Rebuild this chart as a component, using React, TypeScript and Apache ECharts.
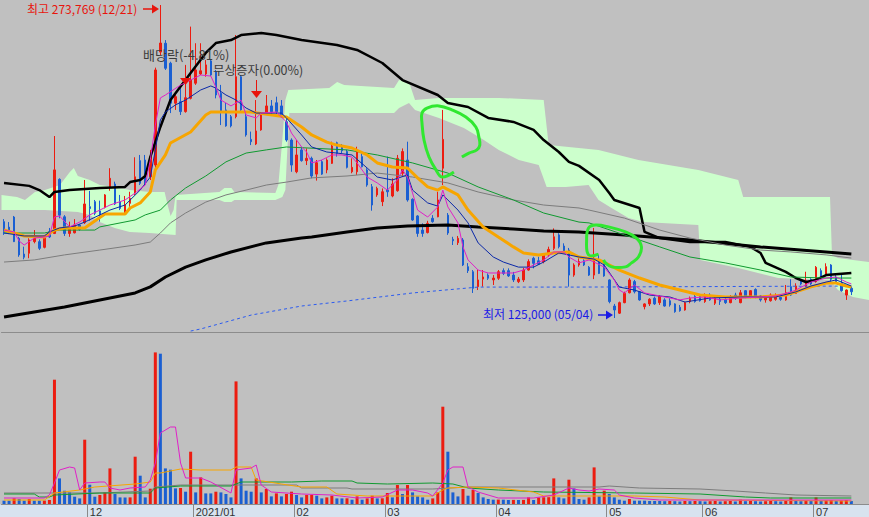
import React, { useEffect, useRef } from "react";
import * as echarts from "echarts";

// ---- categories: trading days per month (3 trailing future days for the cloud) ----
const monthDays: [string, number[]][] = [
  ["2020/11", [6, 9, 10, 11, 12, 13, 16, 17, 18, 19, 20, 23, 24, 25, 26, 27, 30]],
  ["2020/12", [1, 2, 3, 4, 7, 8, 9, 10, 11, 14, 15, 16, 17, 18, 21, 22, 23, 24, 28, 29, 30]],
  ["2021/01", [4, 5, 6, 7, 8, 11, 12, 13, 14, 15, 18, 19, 20, 21, 22, 25, 26, 27, 28, 29]],
  ["2021/02", [1, 2, 3, 4, 5, 8, 9, 10, 15, 16, 17, 18, 19, 22, 23, 24, 25, 26]],
  ["2021/03", [2, 3, 4, 5, 8, 9, 10, 11, 12, 15, 16, 17, 18, 19, 22, 23, 24, 25, 26, 29, 30, 31]],
  ["2021/04", [1, 2, 5, 6, 7, 8, 9, 12, 13, 14, 15, 16, 19, 20, 21, 22, 23, 26, 27, 28, 29, 30]],
  ["2021/05", [3, 4, 6, 7, 10, 11, 12, 13, 14, 17, 18, 20, 21, 24, 25, 26, 27, 28, 31]],
  ["2021/06", [1, 2, 3, 4, 7, 8, 9, 10, 11, 14, 15, 16, 17, 18, 21, 22, 23, 24, 25, 28, 29, 30]],
  ["2021/07", [1, 2, 5, 6, 7, 8, 9, 12, 13, 14, 15]],
];

// ---- candles: [open, close, low, high] ----
const ohlc: number[][] = [
  [170800,166000,164500,172000],[168200,165900,164900,170600],[173000,161300,161100,173500],[162900,155000,154100,163600],
  [155400,153900,152900,158900],[155800,162100,153400,162900],[161300,164000,160500,166800],[161300,158100,157300,162400],
  [158600,164000,158100,164500],[166000,163500,163000,167800],[165200,195400,164900,211500],[190900,173900,172400,191400],
  [173100,165200,164000,173900],[165200,167600,163600,170800],[165500,169200,165200,172000],[169200,167100,166500,169700],
  [170300,179200,169700,190600],[177900,177000,171200,185400],[180300,174800,173900,181100],[175900,174000,170800,180800],
  [177600,183500,177100,183900],[187100,191400,185500,196200],[188700,179200,178700,189800],[180300,177100,176300,183500],
  [175000,178700,174800,183000],[179500,181900,177900,185000],[184300,192100,183500,201400],[199800,189000,188200,202500],
  [200100,189000,187800,202500],[192100,201700,190600,204900],[197700,242900,196300,244000],[251400,255700,250000,273769],
  [255600,243700,242900,257100],[246100,227100,222400,246800],[227100,230200,223900,231000],[227800,223100,221500,234300],
  [223100,229700,222600,245300],[229400,238100,228900,263500],[236600,242900,235800,255600],[241000,242500,240500,255600],
  [241000,245300,239700,247600],[247200,240500,240000,247600],[242100,231000,229400,242900],[231800,223100,216700,235800],
  [223900,216300,215900,227200],[220700,216300,215600,221500],[220700,239700,219900,259500],[239700,223900,223100,240500],
  [220700,212000,211200,223100],[209900,208800,207200,213600],[207700,213900,207200,228600],[214400,221500,214000,222300],
  [222300,225800,221500,231000],[225800,223100,221500,228600],[227300,223100,222000,230200],[225800,220700,220100,228600],
  [218300,209600,208800,219900],[209600,197700,194500,210400],[194500,202500,193800,209600],[204900,199800,199300,206400],
  [199800,200900,197700,205600],[200900,192500,191400,201700],[193400,198800,190300,200100],[199300,193400,193000,200100],
  [195400,200100,193800,200900],[198500,206800,198200,208800],[208300,203300,201700,208800],[206800,204500,203300,207700],
  [204100,196600,196100,204900],[194500,196600,193800,200900],[194500,204100,193000,206400],[201700,196900,196600,203300],
  [195400,188200,187400,196200],[187400,178700,176000,188700],[183500,186600,182600,187400],[180300,185000,178200,186600],
  [185800,185000,182600,201700],[183000,188700,182400,191400],[185500,200900,185000,202500],[193800,204100,192100,205600],
  [200100,181100,180300,208800],[181400,171600,171200,181900],[173500,165200,163600,173900],[166800,165200,163600,170000],
  [165600,170000,165200,171200],[172400,170800,170300,173900],[173100,181100,172900,185000],[196200,209900,188200,223900],
  [173900,165400,164500,174900],[162400,161700,159700,163600],[160800,162900,159700,164000],[162100,150200,149700,163000],
  [149400,147500,146400,151100],[147000,139100,136900,147800],[139900,143100,138300,147800],[143500,144500,139900,147800],
  [145400,143900,143100,146200],[143100,144000,140700,145400],[143900,147000,143100,147800],[147500,146200,145400,148600],
  [147500,145000,144500,148600],[145400,143100,142100,146900],[142300,143500,141600,144500],[143100,147800,142100,148800],
  [147800,151800,147500,152900],[153400,151000,148600,154100],[152200,150600,150200,154100],[151800,155400,151000,155800],
  [155000,157600,154100,158900],[158100,163600,157300,167600],[164500,158900,158100,165300],[159200,156500,155800,160500],
  [157300,145400,139900,158300],[145400,150200,144600,151000],[150200,151800,149400,153400],[152200,150200,149700,152900],
  [149100,145400,145000,149700],[145400,153400,143500,167800],[151800,146200,145900,155000],[151000,145000,144600,151800],
  [143100,132800,132000,143400],[130700,128800,125000,131700],[127300,132300,126900,132800],[132300,136700,132000,137500],
  [137000,143100,136700,143900],[142300,137500,136700,143100],[137500,133600,133200,137800],[130400,131700,129100,132000],
  [131700,133900,130700,134400],[134400,131700,131200,135200],[132300,135200,131200,135900],[133600,130700,130400,134400],
  [133200,131200,130400,134400],[131700,128000,127500,132000],[130100,128500,128000,131200],[128800,132300,128500,132800],
  [132800,134400,132000,135200],[135200,132800,132300,136700],[135200,133200,132800,136400],[132800,135900,132200,136700],
  [135900,133600,133200,136700],[132000,134400,131200,135500],[133900,132900,131200,134800],[133900,132300,131700,135200],
  [132300,134800,132000,135900],[135900,134400,133600,137000],[132300,137000,132000,138300],[138000,134800,134400,138300],
  [134800,138000,134400,138300],[138600,134800,134400,139100],[135500,133600,132800,135900],[133600,134800,132300,135500],
  [133200,135900,132800,136700],[133900,135500,133200,136700],[134800,133900,133200,136300],[133600,137000,133200,140700],
  [139900,135900,135500,143400],[136700,140200,136400,141500],[142700,141200,140700,143400],[139900,142700,139600,147000],
  [143400,141200,140700,143900],[142300,149100,141800,149700],[147500,144600,143900,148600],[145900,149400,145400,151000],
  [150200,143400,142300,150600],[144300,141800,141200,145400],[141500,138000,137500,146200],[135900,138300,133600,138600],
  [139100,137500,135900,139900],
];

const volume: number[] = [
  33000,33000,56000,50000,33000,50000,33000,33000,34000,40000,
  1243000,256000,133000,116000,73000,56000,643000,193000,73000,90000,
  116000,356000,100000,66000,65000,66000,473000,283000,66000,153000,
  1516000,1503000,356000,343000,156000,160000,123000,523000,116000,266000,
  106000,106000,123000,116000,100000,66000,1226000,256000,133000,123000,
  256000,116000,150000,76000,106000,76000,100000,123000,90000,66000,
  90000,91000,83000,56000,66000,83000,56000,56000,57000,43000,
  76000,43000,56000,83000,56000,57000,110000,66000,190000,100000,
  190000,116000,76000,66000,43000,56000,116000,973000,523000,116000,
  76000,150000,83000,140000,110000,66000,50000,43000,44000,43000,
  40000,41000,40000,41000,66000,40000,66000,67000,68000,256000,
  66000,56000,243000,156000,50000,43000,66000,366000,76000,133000,
  100000,66000,43000,33000,50000,33000,33000,33000,30000,30000,
  30000,28000,30000,28000,25000,30000,28000,30000,28000,25000,
  28000,30000,25000,28000,30000,25000,43000,28000,30000,28000,
  25000,28000,30000,28000,25000,30000,66000,30000,28000,35000,
  30000,66000,30000,35000,40000,30000,35000,40000,30000,
];

// ---- price moving averages: [category index, price] ----
const ma5: number[][] = [
  [0,166800],[2,165900],[3,161600],[4,159700],[6,163000],[8,163500],[9,164000],[10,173000],[11,173500],[13,168300],
  [15,170600],[17,174000],[19,176300],[21,178700],[24,181100],[26,184400],[28,188200],[29,200100],[30,216700],[31,229600],
  [32,231000],[35,235700],[37,238100],[39,240500],[41,240000],[42,234800],[43,228600],[45,225800],[47,228600],[48,221500],
  [50,220100],[51,222400],[54,222900],[56,218200],[57,212900],[59,206300],[60,203900],[61,198700],[63,200100],[65,202500],
  [67,202500],[69,201500],[70,198700],[72,192000],[74,189200],[76,185800],[78,190600],[79,195400],[80,192000],[81,184400],
  [82,176300],[84,173000],[86,177800],[87,185800],[88,177800],[90,170200],[91,158800],[92,152600],[94,147800],[96,146400],
  [98,146400],[101,146400],[103,147800],[105,150200],[107,152600],[109,156400],[111,156400],[112,154000],[114,151200],
  [116,152600],[117,151600],[119,149200],[121,143100],[122,138300],[123,136900],[125,140700],[127,136900],[131,135000],
  [134,133600],[136,134500],[139,135000],[142,133600],[146,134500],[150,135000],[153,135500],[156,137400],[157,138300],
  [160,142100],[163,144000],[165,144500],[167,142100],[168,141200],
];
const ma10: number[][] = [
  [0,165400],[4,164000],[8,164000],[9,165900],[11,167800],[14,168700],[16,170600],[19,174000],[21,176300],[24,178700],
  [27,185800],[29,192000],[30,204900],[31,219100],[32,222900],[34,226300],[36,228600],[39,233400],[41,235300],[42,234300],
  [44,231000],[46,228600],[48,224800],[50,222400],[53,222400],[55,222400],[56,220100],[59,212000],[61,206300],[64,203900],
  [66,203400],[69,202500],[72,196300],[74,192000],[77,190600],[80,193000],[81,185800],[84,179700],[86,178200],[87,183500],
  [90,176300],[92,170200],[94,160700],[97,154000],[99,151600],[102,149200],[105,149200],[107,151600],[110,155900],
  [112,155000],[114,154000],[117,153000],[119,150200],[122,139700],[125,138300],[128,135900],[132,135000],[135,132600],
  [140,134500],[146,135000],[153,135000],[157,137400],[160,140200],[163,142100],[165,143100],[168,140200],
];
const ma20: number[][] = [
  [0,166800],[2,165400],[4,164000],[8,163500],[10,166800],[12,167800],[16,167800],[18,171100],[20,174400],[24,174400],
  [25,177300],[27,179700],[29,184900],[30,195400],[32,202500],[33,208200],[37,213400],[40,221500],[41,222900],[49,222900],
  [56,220500],[59,215800],[61,212000],[64,208600],[66,207200],[69,205800],[72,202500],[74,198700],[77,196800],[80,196300],
  [82,191600],[84,187300],[86,185800],[87,187300],[90,183500],[92,176300],[95,168300],[98,163500],[101,158800],[103,155900],
  [106,155000],[109,155900],[112,156400],[114,154000],[118,152600],[122,147800],[126,144000],[130,140700],[134,138300],
  [138,135900],[143,135000],[150,135000],[155,135900],[157,137400],[160,139800],[163,141600],[165,141600],[167,140200],
  [168,139700],
];
const ma60: number[][] = [
  [0,165400],[8,165400],[11,166800],[18,166800],[19,168300],[26,171600],[28,174000],[31,176300],[33,181100],[36,186800],
  [40,192500],[44,199200],[48,203400],[52,204900],[56,206300],[68,204900],[74,202500],[81,198700],[88,193900],[94,187300],
  [101,181100],[107,174900],[114,170600],[116,170200],[123,164500],[130,158800],[136,154000],[143,151200],[150,147800],
  [156,144500],[163,144000],[168,144000],
];
const ma120: number[][] = [
  [0,151600],[6,152600],[12,155000],[19,157300],[26,159700],[29,161100],[31,165400],[33,170200],[36,174900],[40,180100],
  [44,183500],[48,185800],[52,188200],[56,189600],[61,191600],[68,192500],[74,193900],[81,192000],[88,189200],[94,184900],
  [101,181100],[107,178700],[114,177300],[116,176300],[123,172500],[130,166800],[136,163000],[143,159700],[150,157300],
  [156,156400],[163,155000],[168,153500],
];
const ma240: number[][] = [
  [0,125500],[6,127900],[12,130200],[19,133600],[26,136900],[29,139800],[32,144500],[36,149200],[40,152600],[45,156400],
  [52,160700],[59,163000],[61,163500],[68,165900],[74,167800],[80,168700],[88,169200],[94,168300],[101,167300],[107,166400],
  [114,165900],[123,164500],[136,162100],[150,158800],[163,156400],[168,155400],
];
const baseLine: number[][] = [
  [0,189200],[5,187800],[7,185800],[9,182500],[10,184900],[13,185800],[19,186800],[24,187300],[25,189600],[27,190600],
  [28,192500],[29,201500],[31,215800],[33,228600],[37,241500],[40,251000],[42,255700],[45,257100],[47,259500],[51,260500],
  [54,259500],[57,258100],[59,257100],[66,254800],[70,252400],[75,246200],[79,238100],[86,231000],[88,227200],[92,225300],
  [96,220100],[101,218200],[105,214400],[107,209600],[110,203900],[112,199200],[114,197300],[118,190600],[120,184400],
  [121,181100],[126,177300],[127,165900],[130,163000],[136,161100],[143,161100],[148,158800],[150,155900],[151,151200],
  [155,146900],[157,144000],[159,142100],[161,143100],[163,145400],[168,146400],
];
const lowBand: number[][] = [
  [37,118800],[39,119800],[49,126400],[59,130700],[68,133100],[81,136900],[94,139700],[114,139700],[168,140200],
];

// ---- cloud edges [index, price] ----
const cloudTop: number[][] = [
  [-0.5,183500],[2.57,182500],[4.15,181100],[6.13,184900],[8.11,185800],[11.08,188200],[13.05,194400],[13.84,196300],
  [14.64,192500],[17.01,190600],[18.99,188200],[21.95,187300],[24.92,185800],[28.88,184900],[31.84,184900],[32.44,178700],
  [33.03,173500],[33.62,176300],[34.02,183500],[42.72,184900],[43.71,186800],[45.09,186800],[45.68,184900],[53.8,184400],
  [54.39,188200],[55.18,209600],[55.78,228600],[56.37,233400],[64.48,234300],[66.06,237200],[67.44,235700],[77.33,234300],
  [78.32,238100],[80.3,237200],[81.49,228600],[86.23,229600],[98.1,229600],[107.0,228600],[107.99,207200],[117.88,204900],
  [125.79,200100],[137.66,195400],[145.57,190600],[146.56,182500],[163.77,182500],[164.16,155000],[165.35,153500],
  [168.32,152600],[171.5,151600],
];
const cloudBottom: number[][] = [
  [-0.5,176300],[8.11,176300],[14.64,175400],[17.01,174000],[18.99,170600],[21.95,167800],[24.92,165900],[28.88,165400],
  [34.02,164500],[34.22,181100],[42.72,181100],[43.71,180100],[45.09,180100],[45.68,181100],[53.8,181100],[55.18,182500],
  [55.78,185800],[56.17,204900],[56.57,222400],[77.33,222400],[78.32,224800],[80.3,227200],[81.49,223900],[86.23,220100],
  [91.18,215300],[95.13,209600],[98.1,204900],[102.06,200100],[106.01,197700],[107.59,187300],[111.35,187300],
  [115.9,188200],[117.88,181100],[120.45,177300],[123.81,172500],[126.78,170600],[137.66,169200],[138.05,152600],
  [145.57,148800],[153.48,144000],[163.77,143100],[165.35,138300],[168.32,135000],[171.5,133600],
];

// ---- hand-drawn annotation loops [index, price] ----
const loopA: number[][] = [
  [89.2,194400],[86.83,192000],[85.64,195400],[84.26,201500],[83.27,209600],[82.87,217700],[82.87,222400],[83.86,224800],
  [86.23,225800],[88.8,223900],[91.57,220500],[93.55,215800],[94.15,211000],[94.34,207200],[93.75,204900],[92.17,203400],
  [90.78,201500],
];
const loopB: number[][] = [
  [117.88,155400],[115.9,155000],[115.51,162100],[115.9,167800],[117.29,169200],[119.86,168300],[123.22,165900],
  [125.4,163000],[126.38,158800],[125.79,154000],[124.41,151200],[123.22,149300],[120.45,149300],[119.26,151200],
  [118.87,152600],
];

// ---- volume moving averages [index, volume] ----
const vma5: number[][] = [
  [0,60000],[8,60000],[9,90000],[10,210000],[11,340000],[13,370000],[14,360000],[15,140000],[16,210000],[19,220000],
  [20,220000],[21,160000],[23,140000],[25,160000],[28,170000],[29,240000],[30,410000],[31,710000],[33,770000],[34,770000],
  [35,410000],[36,260000],[39,260000],[41,220000],[45,110000],[46,340000],[49,360000],[50,390000],[51,190000],[53,120000],
  [59,100000],[65,90000],[70,60000],[75,70000],[78,140000],[81,140000],[84,110000],[85,80000],[87,210000],[88,340000],
  [89,370000],[91,370000],[92,170000],[94,120000],[98,60000],[105,60000],[109,90000],[112,160000],[114,140000],[116,130000],
  [118,150000],[121,140000],[122,90000],[125,60000],[130,40000],[168,40000],
];
const vma20: number[][] = [
  [0,40000],[8,40000],[10,110000],[15,140000],[18,170000],[26,200000],[29,220000],[30,310000],[31,310000],[35,350000],
  [39,340000],[45,340000],[46,370000],[49,370000],[50,240000],[55,200000],[59,170000],[64,170000],[66,100000],[72,80000],
  [85,80000],[87,140000],[88,160000],[92,170000],[98,160000],[105,120000],[107,80000],[125,80000],[131,70000],[138,40000],
  [168,30000],
];
const vma60: number[][] = [
  [0,100000],[6,100000],[7,70000],[9,70000],[10,90000],[19,110000],[29,110000],[30,160000],[35,180000],[45,180000],
  [47,220000],[57,220000],[63,230000],[69,230000],[70,210000],[76,200000],[85,210000],[89,200000],[92,160000],[98,140000],
  [107,120000],[125,110000],[138,100000],[147,70000],[152,60000],[168,60000],
];
const vma120: number[][] = [
  [0,110000],[19,110000],[29,130000],[30,170000],[35,190000],[58,190000],[59,160000],[68,160000],[69,150000],[85,150000],
  [92,170000],[118,170000],[120,180000],[126,160000],[138,150000],[145,130000],[151,110000],[157,90000],[168,80000],
];

const RED = "#ec1c10";
const BLUE = "#1a5fd2";

export default function App() {
  const ref = useRef<HTMLDivElement>(null);

  useEffect(() => {
    if (!ref.current) return;
    const chart = echarts.init(ref.current, undefined, { renderer: "svg" });

    const dates: string[] = [];
    monthDays.forEach(([m, days]) => days.forEach((d) => dates.push(`${m}/${String(d).padStart(2, "0")}`)));
    const monthStart = dates.map((d, i) => i > 0 && d.slice(0, 7) !== dates[i - 1].slice(0, 7));
    const N = dates.length;

    const line = (name: string, data: number[][], color: string, width: number, extra: any = {}) => ({
      name,
      type: "line",
      data,
      xAxisIndex: 0,
      yAxisIndex: 0,
      showSymbol: false,
      symbol: "none",
      lineStyle: { color, width, ...(extra.lineStyle || {}) },
      silent: true,
      z: 3,
    });
    const vline = (name: string, data: number[][], color: string) => ({
      name,
      type: "line",
      data,
      xAxisIndex: 1,
      yAxisIndex: 1,
      showSymbol: false,
      symbol: "none",
      lineStyle: { color, width: 1 },
      silent: true,
      z: 4,
    });
    const loopSeries = (name: string, pts: number[][]) => ({
      name,
      type: "custom",
      xAxisIndex: 2,
      yAxisIndex: 0,
      data: [[0, 150000]],
      z: 6,
      silent: true,
      renderItem: (_p: any, api: any) => ({
        type: "polyline",
        shape: { points: pts.map((p) => api.coord(p)), smooth: 0.4 },
        style: { stroke: "#30e830", lineWidth: 3, fill: null },
      }),
    });

    const font = '"Noto Sans CJK KR", "Noto Sans", sans-serif';

    chart.setOption({
      animation: false,
      backgroundColor: "#c0c0c0",
      grid: [
        { left: 1.5, right: -2, top: 0, height: 332 },
        { left: 1.5, right: -2, top: 335, height: 169 },
      ],
      xAxis: [
        {
          type: "category",
          gridIndex: 0,
          data: dates,
          boundaryGap: true,
          axisLine: { show: true, lineStyle: { color: "#8c8c8c", width: 1 } },
          axisTick: { show: false },
          axisLabel: { show: false },
          splitLine: { show: false },
        },
        {
          type: "category",
          gridIndex: 1,
          data: dates,
          boundaryGap: true,
          axisLine: { show: true, lineStyle: { color: "#8c8c8c", width: 1 } },
          axisTick: {
            show: true,
            interval: (i: number) => monthStart[i],
            length: 13,
            lineStyle: { color: "#8a8a8a" },
          },
          axisLabel: {
            show: true,
            interval: (i: number) => monthStart[i],
            formatter: (v: string) => {
              const [y, m] = v.split("/");
              return m === "01" ? `${y}/${m}` : m;
            },
            align: "left",
            margin: 2,
            fontSize: 11,
            color: "#333",
            fontFamily: "Liberation Sans, sans-serif",
          },
          splitLine: { show: false },
        },
        {
          type: "value",
          gridIndex: 0,
          position: "top",
          min: -0.5,
          max: N - 0.5,
          show: false,
          splitLine: { show: false },
        },
      ],
      yAxis: [
        { type: "value", gridIndex: 0, min: 118350, max: 276150, show: false, splitLine: { show: false } },
        { type: "value", gridIndex: 1, min: 0, max: 1690000, show: false, splitLine: { show: false } },
      ],
      graphic: [
        { type: "rect", z: -1, silent: true, shape: { x: 0, y: 504.5, width: 869, height: 13 }, style: { fill: "#d8e3ef" } },
        { type: "text", x: 27, y: 2, z: 10, style: { text: "최고 273,769 (12/21)", fill: "#e8140c", font: `12px ${font}` } },
        { type: "line", z: 10, shape: { x1: 143, y1: 9, x2: 153, y2: 9 }, style: { stroke: "#e8140c", lineWidth: 1.5 } },
        { type: "polygon", z: 10, shape: { points: [[152, 4.5], [159, 9], [152, 13.5]] }, style: { fill: "#e8140c" } },
        { type: "text", x: 483, y: 307, z: 10, style: { text: "최저 125,000 (05/04)", fill: "#1a1ae6", font: `12px ${font}` } },
        { type: "line", z: 10, shape: { x1: 598, y1: 315, x2: 607, y2: 315 }, style: { stroke: "#1a1ae6", lineWidth: 1.5 } },
        { type: "polygon", z: 10, shape: { points: [[606, 310.5], [613, 315], [606, 319.5]] }, style: { fill: "#1a1ae6" } },
        { type: "text", x: 143, y: 48, z: 10, style: { text: "배당락(-4.81%)", fill: "#3c3c3c", font: `13px ${font}` } },
        { type: "line", z: 10, shape: { x1: 185.5, y1: 66, x2: 185.5, y2: 79 }, style: { stroke: "#e8140c", lineWidth: 1 } },
        { type: "polygon", z: 10, shape: { points: [[180, 78], [191, 78], [185.5, 85]] }, style: { fill: "#e8140c" } },
        { type: "text", x: 213, y: 63, z: 10, style: { text: "무상증자(0.00%)", fill: "#3c3c3c", font: `12.5px ${font}` } },
        { type: "line", z: 10, shape: { x1: 256.5, y1: 80, x2: 256.5, y2: 92 }, style: { stroke: "#e8140c", lineWidth: 1 } },
        { type: "polygon", z: 10, shape: { points: [[251, 91], [262, 91], [256.5, 98]] }, style: { fill: "#e8140c" } },
      ],
      series: [
        {
          name: "cloud",
          type: "custom",
          xAxisIndex: 2,
          yAxisIndex: 0,
          data: [[0, 150000]],
          z: 1,
          silent: true,
          renderItem: (_p: any, api: any) => ({
            type: "polygon",
            shape: {
              points: cloudTop.map((p) => api.coord(p)).concat(cloudBottom.slice().reverse().map((p) => api.coord(p))),
            },
            style: { fill: "#ccffcc" },
          }),
        },
        {
          name: "candles",
          type: "candlestick",
          xAxisIndex: 0,
          yAxisIndex: 0,
          data: ohlc,
          barWidth: 2,
          z: 2,
          itemStyle: { color: RED, color0: BLUE, borderColor: RED, borderColor0: BLUE, borderWidth: 1 },
        },
        line("MA240", ma240, "#000000", 3),
        line("base", baseLine, "#000000", 2.5),
        line("MA120", ma120, "#7c7c7c", 1),
        line("MA60", ma60, "#109a30", 1),
        line("low", lowBand, "#2a5af0", 1, { lineStyle: { type: [3, 3] } }),
        line("MA20", ma20, "#f7a500", 3),
        line("MA10", ma10, "#0a28a8", 1),
        line("MA5", ma5, "#e020c8", 1),
        loopSeries("loopA", loopA),
        loopSeries("loopB", loopB),
        {
          name: "volume",
          type: "bar",
          xAxisIndex: 1,
          yAxisIndex: 1,
          barWidth: 3,
          data: volume.map((v, i) => ({
            value: v,
            itemStyle: { color: i > 0 && v > volume[i - 1] ? RED : BLUE },
          })),
          silent: true,
          z: 2,
        },
        vline("vMA120", vma120, "#7c7c7c"),
        vline("vMA60", vma60, "#109a30"),
        vline("vMA20", vma20, "#f7a500"),
        vline("vMA5", vma5, "#e020c8"),
      ],
    });

    return () => chart.dispose();
  }, []);

  return <div ref={ref} style={{ position: "fixed", left: 0, top: 0, width: 869, height: 517 }} />;
}
